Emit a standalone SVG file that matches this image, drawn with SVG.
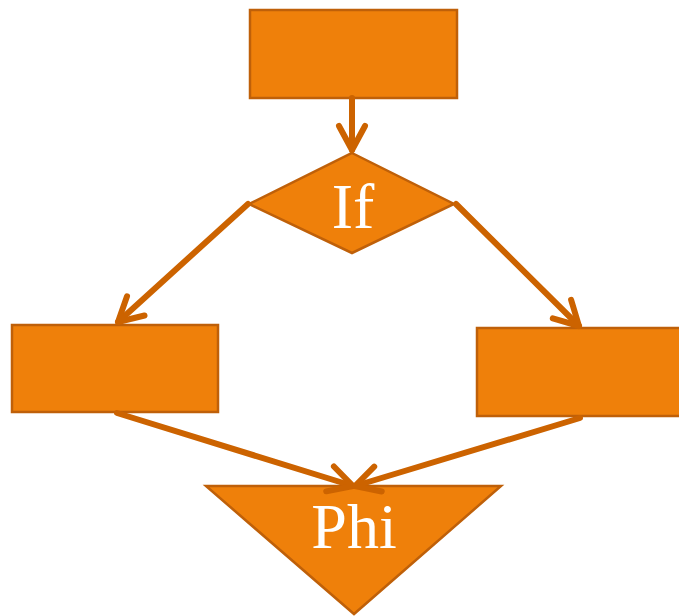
<svg xmlns="http://www.w3.org/2000/svg" width="679" height="616" viewBox="0 0 679 616">
<style>
.node{fill:#EF800A;stroke:#BF6009;stroke-width:2.5}
.lbl{fill:#FFFFFF;font-family:'Liberation Serif',serif;font-size:64px;text-anchor:middle}
.edge{fill:none;stroke:#CC6300;stroke-width:6;stroke-linecap:round;marker-end:url(#arr)}
</style>
<defs>
<marker id="arr" markerUnits="userSpaceOnUse" markerWidth="40" markerHeight="40" viewBox="-30 -20 40 40" refX="0" refY="0" orient="auto" overflow="visible">
<path d="M -24 -13 L 0 0 L -24 13" fill="none" stroke="#CC6300" stroke-width="6" stroke-linecap="round" stroke-linejoin="round"/>
</marker>
</defs>
<g id="top"><rect class="node" x="250" y="10" width="207" height="88"/></g>
<g id="if"><polygon class="node" points="352,153 454,204 352,253 249,204"/><text class="lbl" x="353" y="228">If</text></g>
<g id="left"><rect class="node" x="12" y="325" width="206" height="87"/></g>
<g id="right"><rect class="node" x="477" y="328" width="207" height="88"/></g>
<g id="phi"><polygon class="node" points="206,486 501,486 354,614"/><text class="lbl" x="354" y="548">Phi</text></g>
<g id="connectors">
<line class="edge" x1="352" y1="98" x2="352" y2="150"/>
<line class="edge" x1="248" y1="204" x2="118" y2="322"/>
<line class="edge" x1="456" y1="204" x2="579" y2="326"/>
<line class="edge" x1="117" y1="413" x2="353" y2="486"/>
<line class="edge" x1="580" y1="418" x2="355" y2="486"/>
</g>
</svg>
